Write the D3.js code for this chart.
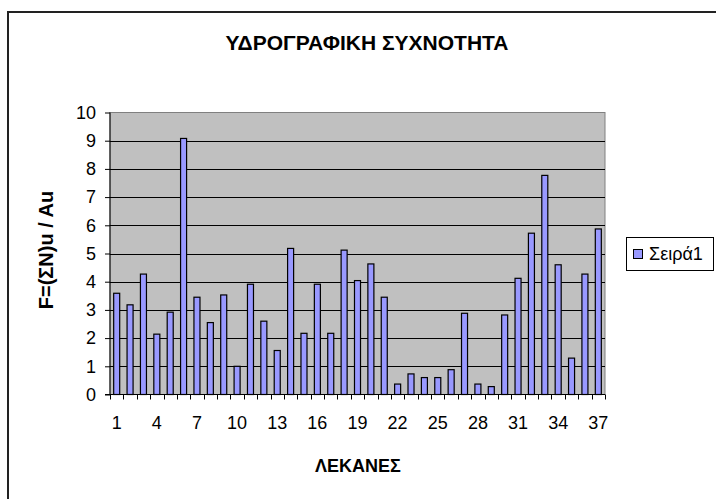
<!DOCTYPE html>
<html>
<head>
<meta charset="utf-8">
<style>
  body { margin: 0; background: #fff; }
  svg text { font-family: Arial, "Liberation Sans", sans-serif; }
</style>
</head>
<body>
<svg width="716" height="499"></svg>
<script src="https://cdn.jsdelivr.net/npm/d3@7"></script>
<script>
// values
var categories = d3.range(1, 38);
var values = [3.59, 3.18, 4.27, 2.14, 2.92, 9.08, 3.45, 2.55, 3.53, 1.0,
              3.91, 2.60, 1.56, 5.18, 2.17, 3.91, 2.17, 5.12, 4.04, 4.63,
              3.45, 0.37, 0.73, 0.60, 0.60, 0.88, 2.88, 0.37, 0.28, 2.82,
              4.12, 5.72, 7.77, 4.60, 1.29, 4.27, 5.87];
var yTicks = d3.range(0, 11);
var xLabels = [1, 4, 7, 10, 13, 16, 19, 22, 25, 28, 31, 34, 37];
var seriesName = "Σειρά1";

var svg = d3.select("svg");
var plot = { left: 110, right: 605, top: 112.5, bottom: 394.5 };

// chart frame (runs off the right/bottom edge like the reference)
svg.append("rect")
    .attr("x", 8).attr("y", 12)
    .attr("width", 720).attr("height", 500)
    .attr("fill", "#fff").attr("stroke", "#222").attr("stroke-width", 2);

var x = d3.scaleBand().domain(categories).range([plot.left, plot.right]).paddingInner(0.55).paddingOuter(0.275);
var xb = d3.scaleBand().domain(categories).range([plot.left, plot.right]);
var y = d3.scaleLinear().domain([0, 10]).range([plot.bottom, plot.top]);

// plot area
svg.append("rect")
    .attr("x", plot.left).attr("y", plot.top)
    .attr("width", plot.right - plot.left).attr("height", plot.bottom - plot.top)
    .attr("fill", "#c0c0c0").attr("stroke", "#808080");

// gridlines
svg.append("g").selectAll("line")
    .data(yTicks.filter(function(d) { return d > 0 && d < 10; }))
    .enter().append("line")
    .attr("x1", plot.left).attr("x2", plot.right)
    .attr("y1", function(d) { return Math.round(y(d)) + 0.5; })
    .attr("y2", function(d) { return Math.round(y(d)) + 0.5; })
    .attr("stroke", "#000");

// bars
svg.append("g").selectAll("rect")
    .data(values)
    .enter().append("rect")
    .attr("x", function(d, i) { return x(categories[i]); })
    .attr("width", x.bandwidth())
    .attr("y", function(d) { return y(d); })
    .attr("height", function(d) { return y(0) - y(d); })
    .attr("fill", "#9999ff")
    .attr("stroke", "#000").attr("stroke-width", 1.2);

// y axis
var yAxis = svg.append("g")
    .attr("transform", "translate(" + plot.left + ",0)")
    .call(d3.axisLeft(y).tickValues(yTicks).tickSize(5).tickPadding(9));
yAxis.selectAll("text").attr("font-size", 18).attr("fill", "#000");
yAxis.selectAll("line, path").attr("stroke", "#000");
yAxis.select(".domain").attr("d", "M0," + plot.top + "V" + plot.bottom);

// x axis: ticks at category boundaries, labels every third category
var bounds = categories.map(function(c) { return xb(c); }).concat([plot.right]);
var xAxis = svg.append("g").attr("transform", "translate(0," + plot.bottom + ")");
xAxis.append("line").attr("x1", plot.left - 5).attr("x2", plot.right).attr("stroke", "#000");
xAxis.selectAll(".tk").data(bounds).enter().append("line")
    .attr("x1", function(d) { return Math.round(d) + 0.5; })
    .attr("x2", function(d) { return Math.round(d) + 0.5; })
    .attr("y1", 0).attr("y2", 5).attr("stroke", "#000");
xAxis.selectAll("text").data(xLabels).enter().append("text")
    .attr("x", function(d) { return xb(d) + xb.bandwidth() / 2; })
    .attr("y", 34)
    .attr("text-anchor", "middle")
    .attr("font-size", 18)
    .text(function(d) { return d; });

// titles
svg.append("text")
    .attr("x", 367).attr("y", 50)
    .attr("text-anchor", "middle")
    .attr("font-size", 21).attr("font-weight", "bold")
    .text("ΥΔΡΟΓΡΑΦΙΚΗ ΣΥΧΝΟΤΗΤΑ");

svg.append("text")
    .attr("x", 358).attr("y", 472)
    .attr("text-anchor", "middle")
    .attr("font-size", 18).attr("font-weight", "bold")
    .text("ΛΕΚΑΝΕΣ");

svg.append("text")
    .attr("transform", "translate(53,250) rotate(-90)")
    .attr("text-anchor", "middle")
    .attr("font-size", 20).attr("font-weight", "bold")
    .text("F=(ΣΝ)u / Au");

// legend
var legend = svg.append("g").attr("transform", "translate(626,237)");
legend.append("rect").attr("x", 0.5).attr("y", 0.5).attr("width", 87).attr("height", 33)
    .attr("fill", "#fff").attr("stroke", "#000");
legend.append("rect").attr("x", 7.5).attr("y", 12.5).attr("width", 9).attr("height", 9)
    .attr("fill", "#9999ff").attr("stroke", "#000");
legend.append("text").attr("x", 23).attr("y", 23)
    .attr("font-size", 18).text(seriesName);
</script>
</body>
</html>
